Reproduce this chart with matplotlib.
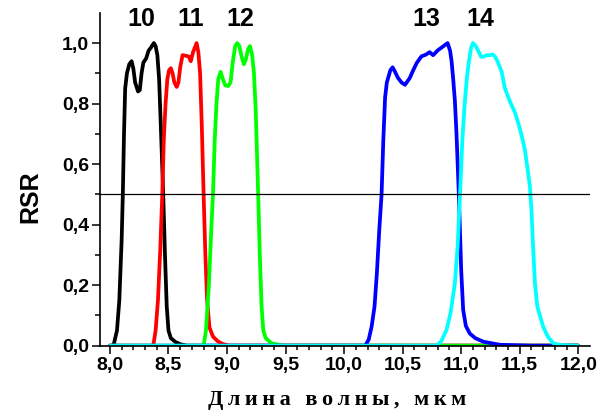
import matplotlib.pyplot as plt
import numpy as np

# spectral response functions, channels 10-14
wl10 = [8.0, 8.03, 8.06, 8.08, 8.1, 8.11, 8.12, 8.13, 8.145, 8.165, 8.185, 8.2, 8.215, 8.24,
        8.255, 8.27, 8.285, 8.31, 8.33, 8.35, 8.375, 8.39, 8.405, 8.42, 8.435, 8.455, 8.47,
        8.485, 8.5, 8.52, 8.56, 8.6, 8.655, 12.0]
rsr10 = [0.0, 0.0, 0.05, 0.15, 0.35, 0.5, 0.7, 0.85, 0.9, 0.93, 0.94, 0.915, 0.87, 0.84,
         0.845, 0.9, 0.935, 0.95, 0.975, 0.985, 1.0, 0.99, 0.96, 0.88, 0.72, 0.5, 0.3,
         0.13, 0.05, 0.025, 0.012, 0.005, 0.0, 0.0]

wl11 = [8.0, 8.37, 8.39, 8.41, 8.43, 8.447, 8.46, 8.475, 8.49, 8.505, 8.52, 8.535, 8.55, 8.57,
        8.585, 8.6, 8.62, 8.65, 8.675, 8.69, 8.71, 8.74, 8.755, 8.77, 8.785, 8.8, 8.815, 8.83,
        8.85, 8.88, 8.92, 8.96, 9.02, 12.0]
rsr11 = [0.0, 0.0, 0.05, 0.15, 0.32, 0.5, 0.68, 0.8, 0.88, 0.91, 0.917, 0.9, 0.87, 0.855,
         0.87, 0.92, 0.96, 0.958, 0.955, 0.94, 0.97, 1.0, 0.97, 0.9, 0.72, 0.5, 0.3, 0.15,
         0.06, 0.03, 0.015, 0.006, 0.0, 0.0]

wl12 = [8.0, 8.8, 8.82, 8.845, 8.865, 8.88, 8.895, 8.91, 8.925, 8.945, 8.965, 8.985, 9.01,
        9.03, 9.05, 9.07, 9.087, 9.105, 9.125, 9.144, 9.16, 9.18, 9.196, 9.215, 9.23, 9.245,
        9.266, 9.28, 9.295, 9.31, 9.33, 9.38, 9.48, 12.0]
rsr12 = [0.0, 0.0, 0.05, 0.2, 0.38, 0.5, 0.68, 0.8, 0.88, 0.905, 0.88, 0.86, 0.858,
         0.87, 0.94, 0.99, 1.0, 0.99, 0.955, 0.93, 0.945, 0.98, 0.99, 0.96, 0.9, 0.78,
         0.5, 0.3, 0.13, 0.05, 0.025, 0.008, 0.0, 0.0]

wl13 = [8.0, 10.18, 10.21, 10.235, 10.26, 10.28, 10.3, 10.32, 10.335, 10.35, 10.365, 10.38,
        10.395, 10.414, 10.435, 10.46, 10.49, 10.52, 10.56, 10.59, 10.62, 10.66, 10.7, 10.73,
        10.76, 10.8, 10.846, 10.884, 10.905, 10.918, 10.932, 10.946, 10.96, 10.98, 11.0,
        11.017, 11.04, 11.074, 11.12, 11.19, 11.33, 11.6, 12.0]
rsr13 = [0.0, 0.0, 0.02, 0.063, 0.13, 0.24, 0.38, 0.5, 0.68, 0.82, 0.87, 0.89,
         0.91, 0.92, 0.905, 0.885, 0.87, 0.862, 0.884, 0.91, 0.934, 0.956, 0.962, 0.97,
         0.96, 0.976, 0.989, 1.0, 0.975, 0.94, 0.88, 0.81, 0.7, 0.5, 0.25,
         0.118, 0.065, 0.04, 0.025, 0.013, 0.003, 0.0, 0.0]

wl14 = [8.0, 10.79, 10.83, 10.875, 10.91, 10.946, 10.97, 10.99, 11.01, 11.03, 11.05, 11.07,
        11.085, 11.1, 11.125, 11.145, 11.17, 11.19, 11.22, 11.245, 11.27, 11.29, 11.31,
        11.345, 11.373, 11.416, 11.46, 11.5, 11.525, 11.544, 11.565, 11.587, 11.6, 11.615,
        11.63, 11.65, 11.7, 11.74, 11.786, 11.85, 11.985, 12.0]
rsr14 = [0.0, 0.0, 0.015, 0.052, 0.11, 0.206, 0.33, 0.5, 0.68, 0.8, 0.89, 0.95,
         0.985, 1.0, 0.99, 0.975, 0.955, 0.955, 0.96, 0.96, 0.962, 0.955, 0.94,
         0.906, 0.851, 0.807, 0.77, 0.719, 0.68, 0.647, 0.59, 0.526, 0.45, 0.32,
         0.206, 0.13, 0.063, 0.03, 0.008, 0.002, 0.0, 0.0]

channels = ['10', '11', '12', '13', '14']
label_x = [8.27, 8.69, 9.11, 10.70, 11.16]
colors = ['black', '#ff0000', '#00ff00', '#0000ff', '#00ffff']

wavelengths = [wl10, wl11, wl12, wl13, wl14]
responses = [rsr10, rsr11, rsr12, rsr13, rsr14]

plt.rcParams['font.family'] = ['Liberation Sans', 'DejaVu Sans']
plt.rcParams['font.weight'] = 'bold'

fig = plt.figure(figsize=(6.15, 4.13), dpi=100)
ax = fig.add_axes([0.1626, 0.163, 0.7967, 0.806])

for wl, r, c in zip(wavelengths, responses, colors):
    ax.plot(wl, r, color=c, lw=2.7, solid_joinstyle='round', solid_capstyle='round')

ax.axhline(0.5, color='black', lw=0.9)

for name, xl in zip(channels, label_x):
    ax.text(xl, 1.08, name, ha='center', va='center', fontsize=18, fontweight='bold')

ax.set_xlim(7.915, 12.1)
ax.set_ylim(0, 1.1)
ax.set_xticks(np.arange(8.0, 12.01, 0.5))
ax.set_xticks(np.arange(8.0, 12.01, 0.1), minor=True)
ax.set_yticks(np.arange(0, 1.01, 0.2))
ax.set_yticks(np.arange(0, 1.01, 0.1), minor=True)
ax.set_xticklabels([f'{v:.1f}'.replace('.', ',') for v in np.arange(8.0, 12.01, 0.5)])
ax.set_yticklabels([f'{v:.1f}'.replace('.', ',') for v in np.arange(0, 1.01, 0.2)])

for side in ['top', 'right']:
    ax.spines[side].set_visible(False)
for side in ['left', 'bottom']:
    ax.spines[side].set_linewidth(1.2)

ax.tick_params(axis='both', which='both', direction='out', width=1.1, labelsize=14)
ax.tick_params(axis='y', which='major', length=6, pad=2)
ax.tick_params(axis='y', which='minor', length=3.5)
ax.tick_params(axis='x', which='major', length=5.5, pad=3)
ax.tick_params(axis='x', which='minor', length=3)

ax.set_ylabel('RSR', fontsize=18, fontweight='bold')
ax.yaxis.set_label_coords(-0.117, 0.447)
fig.text(0.548, 0.032, '\u2009'.join('Длина волны, мкм'), ha='center', va='center',
         fontsize=16, fontweight='bold', family=['Liberation Serif', 'DejaVu Serif'])

fig.savefig('out.png', dpi=100)
